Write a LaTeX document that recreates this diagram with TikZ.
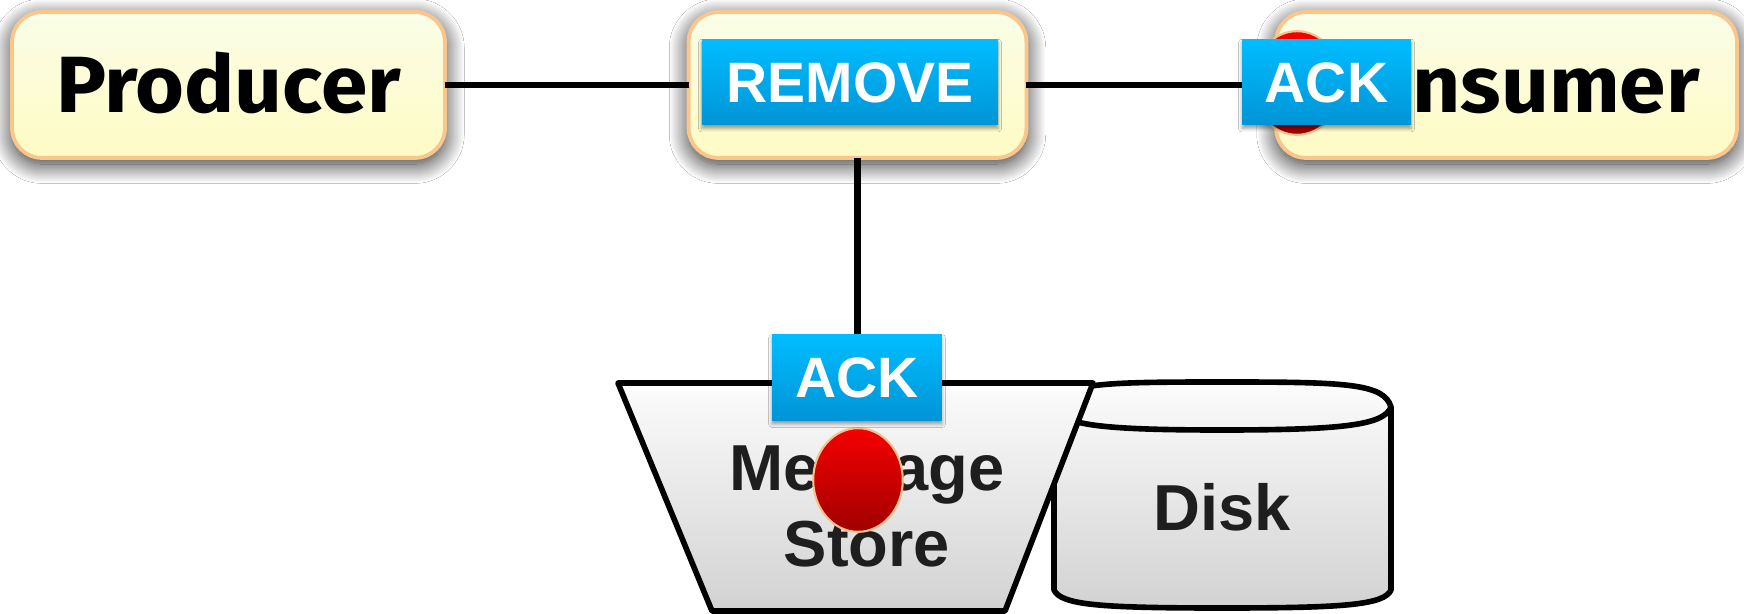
\documentclass[tikz,border=0pt]{standalone}
\usepackage{fontspec}
\setmainfont{Liberation Sans}
\newfontfamily\headfont[FakeStretch=1.05]{Fira Sans}
\usetikzlibrary{shadows.blur,shapes.geometric}

\definecolor{boxtop}{RGB}{250,253,232}
\definecolor{boxbot}{RGB}{255,251,196}
\definecolor{boxline}{RGB}{250,198,140}
\definecolor{bluetop}{RGB}{0,189,255}
\definecolor{bluebot}{RGB}{0,148,214}
\definecolor{redtop}{RGB}{245,0,0}
\definecolor{redbot}{RGB}{160,0,0}
\definecolor{redline}{RGB}{248,192,140}
\definecolor{graytop}{RGB}{252,252,252}
\definecolor{graybot}{RGB}{210,210,210}
\definecolor{txtgray}{RGB}{30,30,30}

\tikzset{
  endbox/.style={rectangle, rounded corners=17pt, draw=boxline, line width=2.2pt,
    top color=boxtop, bottom color=boxbot, minimum height=83pt, inner sep=0pt, outer sep=0pt,
    blur shadow={shadow xshift=0pt, shadow yshift=-3.5pt, shadow blur radius=11pt, shadow opacity=85, shadow blur steps=24},
    font=\headfont\bfseries\fontsize{45.4}{50}\selectfont, text height=31.3pt, text depth=0pt},
  bluelabel/.style={rectangle, top color=bluetop, bottom color=bluebot, minimum height=48.9pt,
    inner sep=0pt, outer sep=0pt, text=white,
    blur shadow={shadow xshift=0pt, shadow yshift=-2pt, shadow blur radius=2pt, shadow opacity=40},
    font=\bfseries\fontsize{32.4}{36}\selectfont, text height=23.2pt, text depth=0pt},
  conn/.style={line width=3.6pt, black},
  outline/.style={draw=black, line width=3.2pt, line join=round},
  storefont/.style={font=\bfseries\fontsize{37}{43.3}\selectfont, text=txtgray},
  reddot/.style={ellipse, minimum width=51pt, minimum height=59pt, inner sep=0pt,
    top color=redtop, bottom color=redbot, draw=redline, line width=1.2pt}
}

\begin{document}
\begin{tikzpicture}[x=0.02cm,y=-0.02cm]
\useasboundingbox (0,0) rectangle (1744,614);
\fill[white] (0,0) rectangle (1744,614);

% top boxes
\node[endbox, minimum width=246.4pt] (prod) at (228.5,85) {Producer};
\node[endbox, minimum width=192.3pt] (mid) at (857.5,85) {};
\node[endbox, minimum width=262.3pt] (cons) at (1506.5,85) {\hspace*{2pt}Consumer};

% connectors
\coordinate (storetop) at (857.5,383);
\draw[conn] (prod.east) -- (mid.west);
\draw[conn] (mid.east) -- (cons.west);
\draw[conn] (mid.south) -- (storetop);

% disk cylinder
\path[outline, top color=graytop, bottom color=graybot]
  (1054,407) .. controls (1061,383) and (1100,382) .. (1222,382)
  .. controls (1344,382) and (1384,383) .. (1391,407)
  -- (1391,590) .. controls (1384,605) and (1344,608) .. (1222,608)
  .. controls (1100,608) and (1061,605) .. (1054,590) -- cycle;
\draw[outline] (1391,407) .. controls (1384,425) and (1344,430) .. (1222,430)
  .. controls (1100,430) and (1061,425) .. (1054,407);
\node[storefont] (disk) at (1222,507) {Disk};

% message store
\path[outline, top color=graytop, bottom color=graybot]
  (618,383) -- (1093,383) -- (1005,611) -- (712,611) -- cycle;
\node[storefont, align=center] (store) at (867,506) {Message\\Store};

% red dots
\node[reddot] (dotstore) at (858,480) {};
\node[reddot] (dotcons) at (1297,83) {};

% labels
\node[bluelabel, minimum width=168.5pt] (remove) at (850,82) {REMOVE};
\node[bluelabel, minimum width=96.2pt] (ackcons) at (1326.5,82) {ACK};
\node[bluelabel, minimum width=96.7pt] (ackstore) at (857,377.5) {ACK};
\end{tikzpicture}
\end{document}
